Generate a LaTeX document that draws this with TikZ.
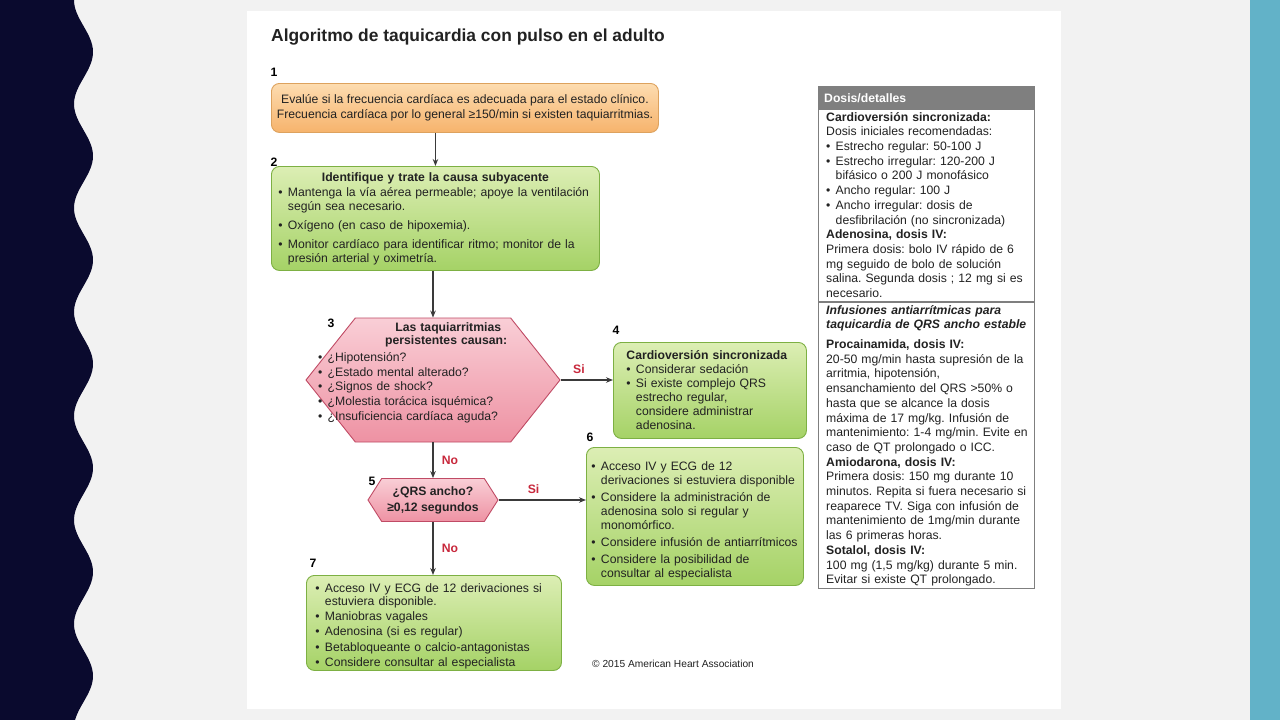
\documentclass[tikz,border=0pt]{standalone}
\usepackage{fontspec}
\setmainfont{Liberation Sans}
\usetikzlibrary{arrows.meta,shapes.symbols}

\definecolor{navyband}{HTML}{0A0A2E}
\definecolor{tealband}{HTML}{62B2C8}
\definecolor{pagegray}{HTML}{F2F2F2}
\definecolor{orangetop}{HTML}{FDDCB0}
\definecolor{orangebot}{HTML}{F6B36C}
\definecolor{orangeline}{HTML}{DDA25E}
\definecolor{greentop}{HTML}{DCEEB4}
\definecolor{greenbot}{HTML}{A5D266}
\definecolor{greenline}{HTML}{7DB043}
\definecolor{pinktop}{HTML}{F9CED6}
\definecolor{pinkbot}{HTML}{EE92A3}
\definecolor{pinkline}{HTML}{C04B65}
\definecolor{labelred}{HTML}{C8283C}
\definecolor{arrowgray}{HTML}{3A3A3A}
\definecolor{panelgray}{HTML}{7F7F7F}
\definecolor{textgray}{HTML}{222222}

\frenchspacing
\newcommand{\fs}[2]{\fontsize{#1}{#2}\selectfont}
\newcommand{\nl}{\hfil\break}
\newcommand{\itm}[1]{\par\hangindent=0.78em\hangafter=1\noindent\makebox[0.78em][l]{\textbullet}#1\par}

\begin{document}
\begin{tikzpicture}[x=1pt, y=-1pt,
    greenbox/.style={draw=greenline, line width=0.9pt, rounded corners=8pt,
        top color=greentop, bottom color=greenbot, anchor=north west, align=left,
        inner ysep=2pt, text=textgray, font=\fs{12.2}{14},
        execute at begin node={\setlength{\parskip}{3pt}}},
    hexa/.style={shape=signal, signal to=east and west, draw=pinkline, line width=0.9pt,
        top color=pinktop, bottom color=pinkbot, inner sep=0pt},
    arr/.style={draw=arrowgray, line width=1.1pt, -{Stealth[length=7pt,width=5.5pt]}},
    yesno/.style={text=labelred, font=\bfseries\fs{12.2}{14}},
    num/.style={font=\bfseries\fs{12.2}{14}, inner sep=0pt},
    dose/.style={anchor=north west, align=left, text width=206, inner xsep=8pt, inner ysep=2pt,
        text=textgray, font=\fs{12.2}{14.7}}]
    \useasboundingbox (0,0) rectangle (1280,720);

    % fondo de la diapositiva
    \fill[pagegray] (0,0) rectangle (1280,720);
    \fill[navyband] (0,0) -- plot[domain=0:720, samples=240, variable=\t]
        ({83.5-9.5*cos(\t*3.4615)}, \t) -- (0,720) -- cycle;
    \fill[tealband] (1250,0) rectangle (1280,720);
    \fill[white] (247,11) rectangle (1061,709);

    \node[anchor=west, inner sep=0pt, text=textgray, font=\bfseries\fs{17.4}{20}] (title) at (271,37)
        {Algoritmo de taquicardia con pulso en el adulto};

    \node[greenbox, draw=orangeline, top color=orangetop, bottom color=orangebot,
        align=center, inner xsep=3pt, minimum width=387, minimum height=49, font=\fs{12.2}{15}] (b1) at (271,83)
        {Evalúe si la frecuencia cardíaca es adecuada para el estado clínico.\\
         Frecuencia cardíaca por lo general ≥150/min si existen taquiarritmias.};

    \node[greenbox, text width=314, inner xsep=7pt, minimum height=104,
        execute at begin node={\setlength{\parskip}{5pt}}] (b2) at (271,166)
        {{\centering\bfseries Identifique y trate la causa subyacente\par}\vspace{-4pt}
         \itm{Mantenga la vía aérea permeable; apoye la ventilación\nl según sea necesario.}
         \itm{Oxígeno (en caso de hipoxemia).}
         \itm{Monitor cardíaco para identificar ritmo; monitor de la\nl presión arterial y oximetría.}};

    \node[hexa, minimum width=254, minimum height=124, signal pointer angle=103] (h3) at (433,380) {};
    \node[anchor=north west, inner sep=0pt, text width=256, align=left, text=textgray,
        font=\fs{12.2}{14.6}] (t3) at (318,322)
        {{\centering\bfseries\fs{12.2}{13} Las taquiarritmias\\persistentes causan:\par}\vspace{3pt}
         \itm{¿Hipotensión?}
         \itm{¿Estado mental alterado?}
         \itm{¿Signos de shock?}
         \itm{¿Molestia torácica isquémica?}
         \itm{¿Insuficiencia cardíaca aguda?}};

    \node[greenbox, text width=167, inner xsep=13pt, minimum height=96,
        execute at begin node={\setlength{\parskip}{0pt}}] (b4) at (613,342)
        {\textbf{Cardioversión sincronizada}
         \itm{Considerar sedación}
         \itm{Si existe complejo QRS\nl estrecho regular,\nl considere administrar\nl adenosina.}};

    \node[hexa, minimum width=130, minimum height=43, signal pointer angle=115] (h5) at (433,500) {};
    \node[align=center, inner sep=0pt, text=textgray, font=\bfseries\fs{12.2}{16}] (t5) at (h5)
        {¿QRS ancho?\\≥0,12 segundos};

    \node[greenbox, text width=207, inner xsep=5pt, minimum height=138] (b6) at (586,447)
        {\itm{Acceso IV y ECG de 12\nl derivaciones si estuviera disponible}
         \itm{Considere la administración de\nl adenosina solo si regular y\nl monomórfico.}
         \itm{Considere infusión de antiarrítmicos}
         \itm{Considere la posibilidad de\nl consultar al especialista}};

    \node[greenbox, text width=237, inner xsep=9pt, inner ysep=1pt, minimum height=95,
        font=\fs{12.2}{13}, execute at begin node={\setlength{\parskip}{2.4pt}}] (b7) at (306,575)
        {\itm{Acceso IV y ECG de 12 derivaciones si\nl estuviera disponible.}
         \itm{Maniobras vagales}
         \itm{Adenosina (si es regular)}
         \itm{Betabloqueante o calcio-antagonistas}
         \itm{Considere consultar al especialista}};

    \node[num] at (274,72) {1};
    \node[num] at (274,162) {2};
    \node[num] at (331,323) {3};
    \node[num] at (616,330) {4};
    \node[num] at (372,481) {5};
    \node[num] at (590,437) {6};
    \node[num] at (313,563) {7};

    \draw[arr] (b1.south -| b2.north) -- (b2.north);
    \draw[arr] (b2.south -| h3.north) -- (h3.north);
    \draw[arr] (h3.east) -- node[yesno, pos=0.35, above=3pt] {Si} (h3.east -| b4.west);
    \draw[arr] (h3.south) -- node[yesno, right=5pt] {No} (h5.north);
    \draw[arr] (h5.east) -- node[yesno, pos=0.4, above=3pt] {Si} (h5.east -| b6.west);
    \draw[arr] (h5.south) -- node[yesno, right=5pt] {No} (h5.south |- b7.north);

    \node[anchor=west, inner sep=0pt, text=textgray, font=\fs{10.2}{12}] (copy) at (592,664)
        {© 2015 American Heart Association};

    % panel de dosis
    \node[anchor=north west, fill=panelgray, minimum width=216, minimum height=24, text width=204,
        inner xsep=6pt, text=white, font=\bfseries\fs{12.2}{14}] (hdr) at (818,86) {Dosis/detalles};
    \node[dose] (d1) at (818,110)
        {\textbf{Cardioversión sincronizada:}\\
         Dosis iniciales recomendadas:
         \itm{Estrecho regular: 50-100 J}
         \itm{Estrecho irregular: 120-200 J\nl bifásico o 200 J monofásico}
         \itm{Ancho regular: 100 J}
         \itm{Ancho irregular: dosis de\nl desfibrilación (no sincronizada)}\noindent
         \textbf{Adenosina, dosis IV:}\\
         Primera dosis: bolo IV rápido de 6\\mg seguido de bolo de solución\\salina. Segunda dosis ; 12 mg si es\\necesario.};
    \node[dose] (d2) at (818,303)
        {\textbf{\itshape Infusiones antiarrítmicas para\\taquicardia de QRS ancho estable}\\[5pt]
         \textbf{Procainamida, dosis IV:}\\
         20-50 mg/min hasta supresión de la\\arritmia, hipotensión,\\ensanchamiento del QRS >50\% o\\hasta que se alcance la dosis\\máxima de 17 mg/kg. Infusión de\\mantenimiento: 1-4 mg/min. Evite en\\caso de QT prolongado o ICC.\\
         \textbf{Amiodarona, dosis IV:}\\
         Primera dosis: 150 mg durante 10\\minutos. Repita si fuera necesario si\\reaparece TV. Siga con infusión de\\mantenimiento de 1mg/min durante\\las 6 primeras horas.\\
         \textbf{Sotalol, dosis IV:}\\
         100 mg (1,5 mg/kg) durante 5 min.\\Evitar si existe QT prolongado.};
    \draw[panelgray, line width=0.8pt] (hdr.north west) rectangle (1034,588);
    \draw[panelgray, line width=1.4pt] (818,302) -- (1034,302);
\end{tikzpicture}
\end{document}
